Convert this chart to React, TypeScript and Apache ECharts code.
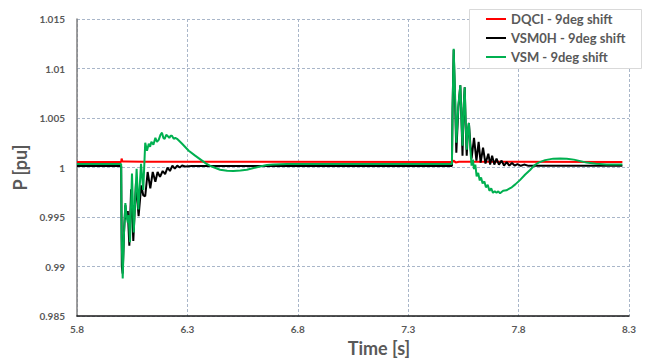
import React, { useEffect, useRef } from "react";
import * as echarts from "echarts";

// ---- data (time [s], P [pu]) ----
const xTicks = [5.8, 6.3, 6.8, 7.3, 7.8, 8.3];
const yTicks = [0.985, 0.99, 0.995, 1, 1.005, 1.01, 1.015];

const dqciName = "DQCI - 9deg shift";
const vsm0hName = "VSM0H - 9deg shift";
const vsmName = "VSM - 9deg shift";

const dqci: [number, number][] = [
  [5.8, 1.00057], [6.0, 1.00057], [6.002, 1.0009], [6.006, 1.0006], [6.02, 1.00062],
  [6.1, 1.00058], [7.5, 1.00057], [7.505, 1.0007], [7.515, 1.00052], [7.53, 1.00058],
  [8.27, 1.00057],
];

const vsm0h: [number, number][] = [
  [5.8, 1.00015], [6.0, 1.00015], [6.003, 0.99], [6.007, 0.9893], [6.013, 0.9935],
  [6.019, 0.9962], [6.025, 0.9948], [6.03, 0.9956], [6.037, 0.9921], [6.045, 0.9978],
  [6.055, 0.9926], [6.067, 0.9984], [6.079, 0.9951], [6.091, 0.9982], [6.1, 0.9972],
  [6.109, 0.9971], [6.12, 0.99955], [6.132, 0.9979], [6.143, 0.99955], [6.155, 0.99856],
  [6.165, 0.99955], [6.176, 0.99906], [6.188, 0.99965], [6.199, 0.99933], [6.21, 1.0],
  [6.221, 0.99965], [6.232, 1.0002], [6.243, 0.9999], [6.254, 1.0002], [6.265, 1.0],
  [6.276, 1.0002], [6.29, 1.0001], [6.32, 1.00015], [7.498, 1.00015], [7.501, 1.006],
  [7.506, 1.0119], [7.512, 1.007], [7.518, 1.0015], [7.527, 1.006], [7.536, 1.0083],
  [7.541, 1.005], [7.546, 1.0012], [7.551, 1.006], [7.556, 1.0081], [7.56, 1.0045],
  [7.565, 1.0012], [7.57, 1.0035], [7.575, 1.0045], [7.581, 1.0025], [7.587, 1.0009],
  [7.598, 1.003], [7.609, 1.0007], [7.619, 1.0026], [7.628, 1.0005], [7.639, 1.002],
  [7.65, 1.0004], [7.663, 1.0014], [7.671, 1.0003], [7.68, 1.0012], [7.69, 1.0003],
  [7.7, 1.0009], [7.711, 1.0003], [7.723, 1.0007], [7.734, 1.0002], [7.746, 1.00055],
  [7.758, 1.0002], [7.77, 1.00045], [7.782, 1.0002], [7.795, 1.00035], [7.81, 1.00018],
  [7.825, 1.0003], [7.845, 1.00017], [8.27, 1.00017],
];

const vsm: [number, number][] = [
  [5.8, 1.00035], [6.0, 1.00035], [6.002, 0.993], [6.007, 0.9888], [6.013, 0.9935],
  [6.019, 0.99642], [6.025, 0.995], [6.03, 0.99444], [6.034, 0.9952], [6.04, 0.99246],
  [6.049, 0.99939], [6.057, 0.99345], [6.07, 0.99988], [6.078, 0.99576], [6.09, 1.00038],
  [6.1, 0.99774], [6.109, 1.0025], [6.117, 1.0017], [6.125, 1.0024], [6.131, 1.0021],
  [6.137, 1.0026], [6.146, 1.0023], [6.155, 1.003], [6.162, 1.0026], [6.17, 1.0028],
  [6.178, 1.0033], [6.185, 1.00352], [6.191, 1.003], [6.197, 1.0029], [6.204, 1.0033],
  [6.21, 1.0032], [6.218, 1.003], [6.224, 1.0032], [6.23, 1.0032], [6.238, 1.0029],
  [6.245, 1.003], [6.253, 1.0029], [6.276, 1.0024], [6.306, 1.0017], [6.335, 1.0012],
  [6.36, 1.0008], [6.385, 1.0004], [6.41, 1.0001], [6.448, 0.99978], [6.48, 0.99967],
  [6.508, 0.99965], [6.54, 0.9997], [6.569, 0.99978], [6.6, 0.99995], [6.629, 1.0001],
  [6.66, 1.00025], [6.689, 1.00032], [6.75, 1.00036], [6.85, 1.00035], [7.498, 1.00035],
  [7.501, 1.006], [7.506, 1.012], [7.512, 1.0075], [7.518, 1.0025], [7.527, 1.0062],
  [7.536, 1.0083], [7.541, 1.005], [7.546, 1.0022], [7.551, 1.006], [7.556, 1.0081],
  [7.56, 1.0048], [7.565, 1.0018], [7.57, 1.0038], [7.575, 1.0045], [7.581, 1.002],
  [7.587, 1.0002], [7.593, 1.0008], [7.598, 0.99985], [7.604, 1.0003], [7.61, 0.9991],
  [7.617, 0.99945], [7.624, 0.9987], [7.63, 0.999], [7.637, 0.9984], [7.645, 0.9986],
  [7.652, 0.998], [7.66, 0.99825], [7.668, 0.99765], [7.676, 0.9979], [7.684, 0.99745],
  [7.692, 0.9976], [7.7, 0.99745], [7.708, 0.9976], [7.716, 0.9974], [7.73, 0.99765],
  [7.745, 0.9977], [7.76, 0.9979], [7.769, 0.998], [7.785, 0.9983], [7.806, 0.99873],
  [7.83, 0.9993], [7.852, 0.99975], [7.87, 1.0002], [7.89, 1.0005], [7.92, 1.00075],
  [7.957, 1.0009], [7.988, 1.00092], [8.018, 1.0009], [8.05, 1.0008], [8.08, 1.00065],
  [8.108, 1.0005], [8.15, 1.00038], [8.199, 1.00032], [8.27, 1.0003],
];

const X0 = xTicks[0];
const xStep = xTicks[1] - xTicks[0];
const shift = (arr: [number, number][]) => arr.map(([t, v]) => [t - X0, v]);

const FONT = "Lato, 'Open Sans', sans-serif";
const GRID_COLOR = "#a9b6c9";
const TEXT_COLOR = "#595959";

export default function App() {
  const ref = useRef<HTMLDivElement>(null);
  useEffect(() => {
    if (!ref.current) return;
    document.body.style.margin = "0";
    const chart = echarts.init(ref.current, undefined, { renderer: "svg" });
    chart.setOption({
      animation: false,
      backgroundColor: "#ffffff",
      textStyle: { fontFamily: FONT },
      grid: { left: 77, right: 21, top: 19, bottom: 40 },
      xAxis: {
        type: "value",
        min: 0,
        max: xTicks[xTicks.length - 1] - X0,
        interval: xStep,
        name: "Time [s]",
        nameLocation: "middle",
        nameGap: 18,
        nameTextStyle: {
          fontFamily: FONT, fontSize: 18, fontWeight: "bold", color: TEXT_COLOR,
          padding: [0, 0, 0, 52],
        },
        axisLine: { show: true, onZero: false, lineStyle: { color: "#1a1a1a", width: 1.5 } },
        axisTick: { show: false },
        axisLabel: {
          margin: 8, fontFamily: FONT, fontSize: 10, fontWeight: "bold", color: TEXT_COLOR,
          formatter: (v: number) => (v + X0).toFixed(1),
        },
        splitLine: { show: true, lineStyle: { color: GRID_COLOR, type: [3, 2], width: 1 } },
      },
      yAxis: {
        type: "value",
        min: yTicks[0],
        max: yTicks[yTicks.length - 1],
        interval: yTicks[1] - yTicks[0],
        name: "P [pu]",
        nameLocation: "middle",
        nameGap: 38,
        nameTextStyle: { fontFamily: FONT, fontSize: 18, fontWeight: "bold", color: TEXT_COLOR },
        axisLine: { show: true, lineStyle: { color: "#7f7f7f", width: 1.5 } },
        axisTick: { show: false },
        axisLabel: {
          margin: 12, fontFamily: FONT, fontSize: 10, fontWeight: "bold", color: TEXT_COLOR,
          formatter: (v: number) => String(+v.toFixed(3)),
        },
        splitLine: { show: true, lineStyle: { color: GRID_COLOR, type: [3, 2], width: 1 } },
      },
      graphic: [
        {
          type: "rect",
          z: 3,
          shape: { x: 469.5, y: 9.5, width: 172, height: 59 },
          style: { fill: "#ffffff", stroke: "#d9d9d9", lineWidth: 1 },
        },
      ],
      legend: {
        z: 5,
        orient: "vertical",
        left: 486,
        top: 9.5,
        padding: 0,
        itemGap: 0,
        itemWidth: 20,
        itemHeight: 2,
        itemTextGap: 2,
        icon: "rect",
        selectedMode: false,
        textStyle: {
          fontFamily: FONT, fontSize: 13, fontWeight: "bold", color: TEXT_COLOR, lineHeight: 19,
        },
        data: [dqciName, vsm0hName, vsmName],
      },
      series: [
        {
          name: dqciName, type: "line", data: shift(dqci), showSymbol: false,
          color: "#ff0000", lineStyle: { width: 2, color: "#ff0000" },
        },
        {
          name: vsm0hName, type: "line", data: shift(vsm0h), showSymbol: false,
          color: "#000000", lineStyle: { width: 2, color: "#000000" },
        },
        {
          name: vsmName, type: "line", data: shift(vsm), showSymbol: false,
          color: "#00b050", lineStyle: { width: 2, color: "#00b050" },
        },
      ],
    });
    return () => chart.dispose();
  }, []);
  return <div ref={ref} style={{ width: 650, height: 362 }} />;
}
